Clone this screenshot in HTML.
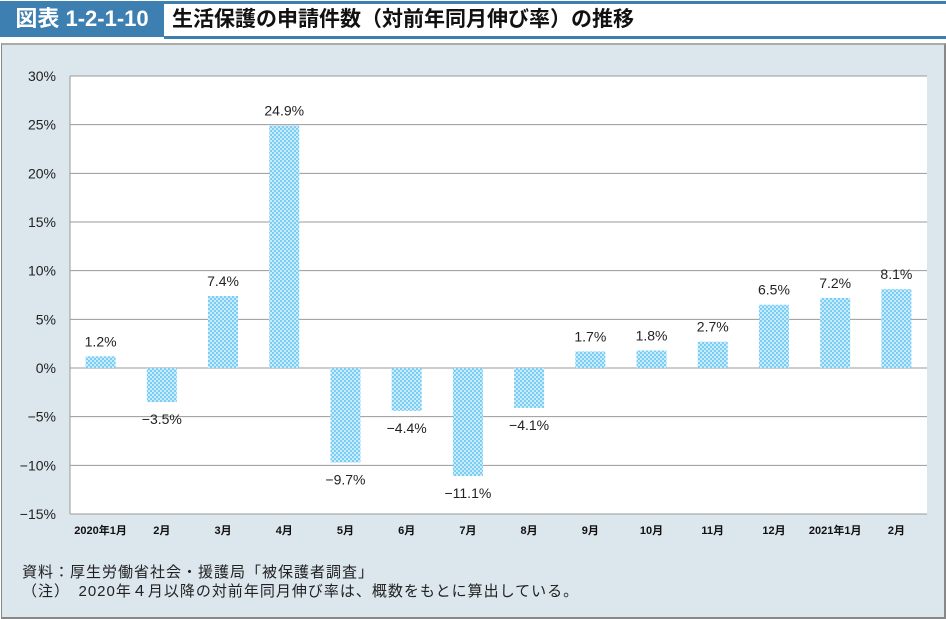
<!DOCTYPE html>
<html><head><meta charset="utf-8"><style>
body{margin:0;width:946px;height:618px;background:#fff;font-family:"Liberation Sans","Noto Sans CJK JP",sans-serif;position:relative;overflow:hidden}
#hdr-id{position:absolute;left:0;top:1px;width:164px;height:36px;background:#3d7fb0;color:#fff;font-weight:bold;font-size:22px;line-height:36px;text-align:center}
#hdr-title{position:absolute;left:164px;top:1px;width:776px;height:32px;border:3px solid #3d7fb0;border-left:none;color:#111;font-weight:bold;font-size:21px;line-height:32px;padding-left:8px;box-sizing:content-box}
#panel{position:absolute;left:1px;top:43px;width:942px;height:572px;background:#dce6ed;border-top:2px solid #aaa;border-right:2px solid #888;border-bottom:2px solid #888;border-left:1px solid #888}
.note{position:absolute;left:22px;font-size:15px;color:#222;letter-spacing:1px}
</style></head><body>
<div id="hdr-id">図表 1-2-1-10</div>
<div id="hdr-title">生活保護の申請件数（対前年同月伸び率）の推移</div>
<div id="panel"></div>
<svg id="chart" width="946" height="618" style="position:absolute;left:0;top:0">
<defs><pattern id="chk" width="4" height="4" patternUnits="userSpaceOnUse"><rect width="4" height="4" fill="#c8ecfb"/><rect width="2" height="2" fill="#7ccdf3"/><rect x="2" y="2" width="2" height="2" fill="#7ccdf3"/></pattern></defs>
<rect x="70" y="76" width="857" height="438" fill="#fff"/>
<g id="grid"></g><g id="bars"></g><g id="labels"></g>
</svg>
<div class="note" style="top:561px">資料：厚生労働省社会・援護局「被保護者調査」</div>
<div class="note" style="top:580px">（注）　2020年４月以降の対前年同月伸び率は、概数をもとに算出している。</div>
<script>
const categories=["2020年1月","2月","3月","4月","5月","6月","7月","8月","9月","10月","11月","12月","2021年1月","2月"];
const values=[1.2,-3.5,7.4,24.9,-9.7,-4.4,-11.1,-4.1,1.7,1.8,2.7,6.5,7.2,8.1];
const valueLabels=["1.2%","−3.5%","7.4%","24.9%","−9.7%","−4.4%","−11.1%","−4.1%","1.7%","1.8%","2.7%","6.5%","7.2%","8.1%"];
const ticks=[30,25,20,15,10,5,0,-5,-10,-15];
const tickLabels=["30%","25%","20%","15%","10%","5%","0%","−5%","−10%","−15%"];
const NS="http://www.w3.org/2000/svg";
const L=70,R=927,T=76,B=514,yMax=30,yMin=-15;
const y=v=>T+(yMax-v)/(yMax-yMin)*(B-T);
const bw=(R-L)/categories.length;
const xc=i=>L+bw*(i+0.5);
function mk(tag,attrs,parent,text){const e=document.createElementNS(NS,tag);for(const k in attrs)e.setAttribute(k,attrs[k]);if(text!==undefined)e.textContent=text;parent.appendChild(e);return e;}
const g=document.getElementById('grid'),b=document.getElementById('bars'),lb=document.getElementById('labels');
ticks.forEach((t,i)=>{
 const ln=mk('line',{x1:L,x2:R,y1:y(t),y2:y(t),stroke:'#999','stroke-width':1},g);
 
 
 const tx=mk('text',{x:56,y:y(t)+5,'text-anchor':'end','font-size':14,fill:'#222','font-family':'Liberation Sans, sans-serif'},g,tickLabels[i]);
 
 
});
const ax=mk('line',{x1:L,x2:L,y1:T,y2:B,stroke:'#999','stroke-width':1},g);


values.forEach((v,i)=>{
 const w=30,y0=y(0),yv=y(v);
 const r=mk('rect',{x:xc(i)-w/2,y:Math.min(y0,yv),width:w,height:Math.abs(yv-y0),fill:'url(#chk)'},b);
 
 
 const ly=v>=0?yv-10:yv+22;
 const t=mk('text',{x:xc(i),y:ly,'text-anchor':'middle','font-size':14,fill:'#222','font-family':'Liberation Sans, sans-serif'},lb,valueLabels[i]);
 
 
 const c=mk('text',{x:xc(i),y:534,'text-anchor':'middle','font-size':11,'font-weight':'bold',fill:'#111','font-family':'Liberation Sans, Noto Sans CJK JP, sans-serif'},lb,categories[i]);
 
 
});
</script>
</body></html>
